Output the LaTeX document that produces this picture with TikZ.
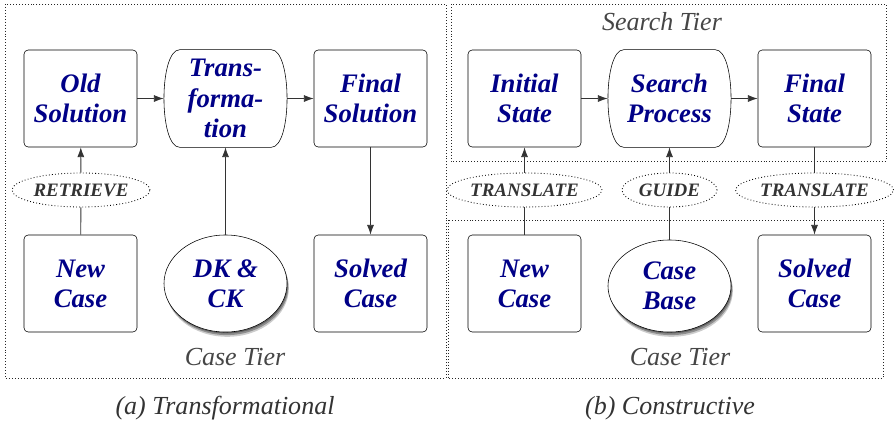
\documentclass[tikz,border=0pt]{standalone}
\usepackage{fontspec}
\setmainfont{Liberation Serif}
\usetikzlibrary{shapes.geometric,shadows,arrows.meta}
\definecolor{navy}{RGB}{0,0,135}
\definecolor{tiergray}{RGB}{70,70,70}
% outline of a process node: flat top and bottom, bulging sides
\newcommand{\procline}[1]{%
    \draw ([shift={(16,0)}]#1.north west) -- ([shift={(-16,0)}]#1.north east)
        .. controls ([shift={(5,0)}]#1.north east) and ([shift={(5,0)}]#1.south east) .. ([shift={(-16,0)}]#1.south east)
        -- ([shift={(16,0)}]#1.south west)
        .. controls ([shift={(-5,0)}]#1.south west) and ([shift={(-5,0)}]#1.north west) .. cycle;}

\begin{document}
\begin{tikzpicture}[x=0.025cm,y=-0.025cm,>={Latex[length=7pt,width=5pt]},
    box/.style={draw,rounded corners=3pt,minimum width=2.825cm,minimum height=2.425cm,
        inner sep=0pt,align=center,text=navy,font=\bfseries\itshape\fontsize{19}{21.5}\selectfont},
    proc/.style={box,draw=none,minimum width=3.075cm},
    base/.style={box,ellipse,fill=white,minimum width=3.075cm,
        drop shadow={shadow xshift=.5pt,shadow yshift=-1pt,opacity=.3,fill=black},
        drop shadow={shadow xshift=1pt,shadow yshift=-2.2pt,opacity=.3,fill=black},
        drop shadow={shadow xshift=1.3pt,shadow yshift=-3.4pt,opacity=.2,fill=black}},
    act/.style={draw,ellipse,inner sep=0pt,minimum height=0.85cm,line width=.6pt,
        dash pattern=on .6pt off 1.6pt,text=black!80,font=\bfseries\itshape\fontsize{13.5}{16}\selectfont},
    tier/.style={draw,line width=.7pt,dash pattern=on .7pt off 1.4pt,black!85},
    lbl/.style={text=tiergray,font=\itshape\fontsize{18.5}{21}\selectfont},
    link/.style={black!80,line width=.6pt}]
    \useasboundingbox (0,0) rectangle (894,423);

    %tiers
    \draw[tier] (5,4) rectangle (446,378);
    \draw[tier] (451,4) rectangle (886,161);
    \draw[tier] (448,220) rectangle (883,378);
    \node[lbl] (casetierA) at (235,357) {Case Tier};
    \node[lbl] (searchtier) at (662,22) {Search Tier};
    \node[lbl] (casetierB) at (680,357) {Case Tier};

    %(a) transformational
    \node[box] (oldA) at (80.5,98.5) {Old\\Solution};
    \node[proc] (transA) at (225.5,98.5) {Trans-\\forma-\\tion};
    \procline{transA}
    \node[box] (finalA) at (370.5,98.5) {Final\\Solution};
    \node[box] (newA) at (80.5,283.5) {New\\Case};
    \node[base] (dkck) at (225.5,283.5) {DK \&\\CK};
    \node[box] (solvedA) at (370.5,283.5) {Solved\\Case};
    \node[act,minimum width=3.45cm] (retrieve) at (81,190) {RETRIEVE};

    \draw[link,->] (oldA) -- (transA);
    \draw[link,->] (transA) -- (finalA);
    \draw[link] (newA) -- (retrieve);
    \draw[link,->] (retrieve) -- (oldA);
    \draw[link,->] (dkck) -- (transA);
    \draw[link,->] (finalA) -- (solvedA);

    %(b) constructive
    \node[box] (initB) at (524.5,98.5) {Initial\\State};
    \node[proc] (searchB) at (669.5,98.5) {Search\\Process};
    \procline{searchB}
    \node[box] (finalB) at (814.5,98.5) {Final\\State};
    \node[box] (newB) at (524.5,283.5) {New\\Case};
    \node[base,minimum height=2.3cm] (casebase) at (669.5,286) {Case\\Base};
    \node[box] (solvedB) at (814.5,283.5) {Solved\\Case};
    \node[act,minimum width=3.875cm] (translA) at (524.5,190) {TRANSLATE};
    \node[act,minimum width=2.375cm] (guide) at (669.5,190) {GUIDE};
    \node[act,minimum width=3.95cm] (translB) at (814.5,190) {TRANSLATE};

    \draw[link,->] (initB) -- (searchB);
    \draw[link,->] (searchB) -- (finalB);
    \draw[link] (newB) -- (translA);
    \draw[link,->] (translA) -- (initB);
    \draw[link] (casebase) -- (guide);
    \draw[link,->] (guide) -- (searchB);
    \draw[link] (finalB) -- (translB);
    \draw[link,->] (translB) -- (solvedB);

    \node[lbl,text=black!80] (capA) at (225,408) {(a) Transformational};
    \node[lbl,text=black!80] (capB) at (670,408) {(b) Constructive};
\end{tikzpicture}
\end{document}
